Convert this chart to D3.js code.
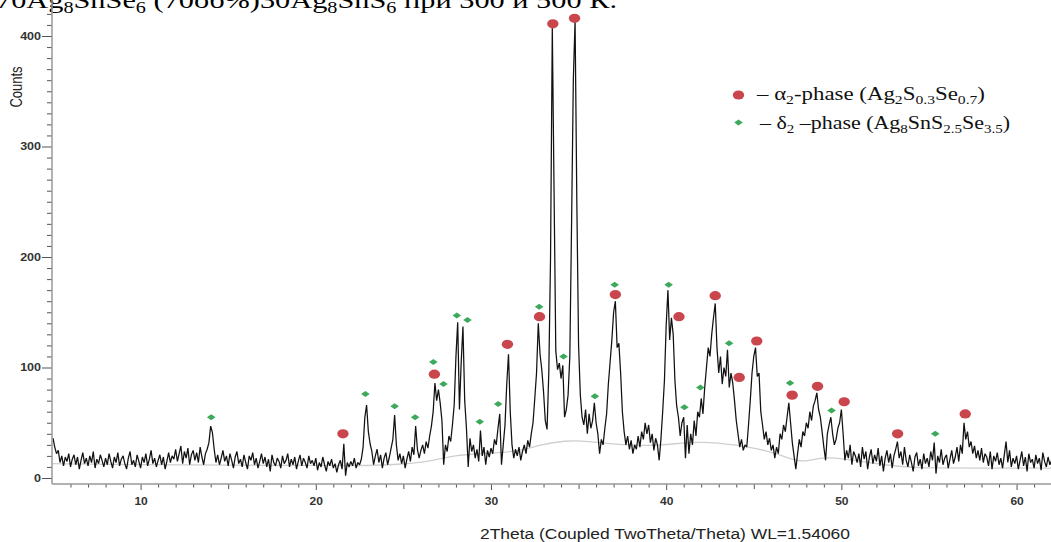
<!DOCTYPE html>
<html>
<head>
<meta charset="utf-8">
<script src="https://cdn.jsdelivr.net/npm/d3@7"></script>
<style>
  body { margin: 0; background: #fff; }
  svg { display: block; }
</style>
</head>
<body>
<div id="chart"></div>
<script>
const twoThetaStart = 5.0;
const twoThetaStep = 0.1;
const counts = [
  36, 28, 22, 25, 14, 20, 11, 19, 15, 22,   // 5
  10, 17, 21, 12, 19, 8, 16, 23, 13, 18,    // 6
  11, 20, 14, 24, 9, 17, 13, 21, 16, 10,    // 7
  18, 12, 22, 15, 9, 19, 14, 23, 11, 17,    // 8
  20, 13, 8, 18, 24, 12, 16, 10, 21, 15,    // 9
  9, 19, 14, 22, 11, 17, 25, 13, 18, 10,    // 10
  16, 21, 12, 19, 8, 15, 23, 14, 20, 17,    // 11
  26, 15, 22, 29, 13, 24, 18, 27, 12, 21,   // 12
  25, 16, 23, 14, 28, 19, 12, 22, 26, 32,   // 13
  47, 41, 26, 14, 21, 12, 18, 25, 15, 20,   // 14
  11, 22, 16, 9, 19, 24, 13, 17, 10, 21,    // 15
  14, 8, 20, 16, 23, 12, 18, 9, 15, 22,     // 16
  13, 19, 10, 17, 6, 21, 14, 11, 18, 15,    // 17
  9, 20, 13, 16, 22, 10, 17, 12, 19, 8,     // 18
  15, 21, 11, 18, 14, 9, 20, 13, 16, 11,    // 19
  18, 7, 14, 10, 19, 12, 6, 15, 11, 17,     // 20
  9, 13, 5, 12, 16, 8, 31, 2, 14, 10,       // 21
  15, 11, 18, 9, 14, 12, 17, 28, 55, 66,    // 22
  42, 31, 24, 12, 20, 26, 14, 21, 9, 18,    // 23
  23, 12, 19, 27, 35, 57, 30, 16, 22, 13,   // 24
  20, 9, 17, 24, 15, 28, 21, 47, 26, 18,    // 25
  25, 30, 22, 33, 27, 38, 47, 60, 86, 70,   // 26
  80, 68, 52, 12, 30, 24, 38, 33, 48, 66,   // 27
  110, 141, 62, 105, 137, 70, 45, 10, 36, 24, // 28
  30, 18, 26, 15, 43, 20, 28, 12, 25, 19,   // 29
  27, 22, 35, 30, 45, 58, 12, 30, 48, 85,   // 30
  112, 60, 30, 18, 26, 20, 28, 16, 24, 30,  // 31
  22, 34, 28, 40, 50, 72, 95, 140, 112, 98, // 32
  78, 52, 44, 95, 200, 408, 260, 115, 98, 104, // 33
  90, 102, 55, 62, 75, 110, 230, 360, 414, 250, // 34
  120, 75, 55, 48, 62, 40, 58, 45, 52, 68,  // 35
  50, 40, 22, 35, 30, 45, 58, 85, 105, 125, // 36
  150, 160, 118, 122, 95, 60, 42, 30, 38, 26, // 37
  34, 22, 30, 26, 38, 28, 42, 35, 50, 40,   // 38
  48, 32, 40, 25, 36, 30, 16, 35, 60, 88,   // 39
  138, 170, 125, 145, 130, 88, 65, 55, 38, 50, // 40
  55, 18, 48, 22, 40, 30, 52, 38, 60, 55,   // 41
  72, 58, 82, 100, 118, 110, 130, 145, 158, 118, // 42
  95, 110, 85, 100, 92, 116, 82, 95, 86, 70, // 43
  52, 40, 28, 35, 25, 30, 28, 48, 70, 95,   // 44
  110, 118, 92, 95, 60, 48, 35, 42, 30, 36, // 45
  25, 30, 18, 28, 22, 40, 35, 48, 42, 55,   // 46
  68, 50, 32, 20, 8, 22, 35, 28, 42, 38,    // 47
  50, 45, 60, 52, 65, 70, 77, 62, 55, 42,   // 48
  28, 16, 40, 48, 55, 40, 30, 35, 45, 50,   // 49
  62, 40, 16, 25, 18, 30, 12, 24, 20, 14,   // 50
  22, 10, 28, 17, 24, 8, 19, 26, 13, 21,    // 51
  15, 27, 11, 20, 6, 18, 25, 14, 22, 9,     // 52
  20, 26, 33, 18, 24, 12, 28, 16, 10, 21,   // 53
  14, 6, 19, 23, 11, 17, 8, 22, 13, 18,     // 54
  10, 24, 16, 32, 4, 20, 14, 26, 12, 18,    // 55
  21, 9, 17, 25, 13, 19, 28, 15, 30, 22,    // 56
  50, 35, 42, 28, 33, 22, 29, 18, 25, 16,   // 57
  27, 14, 22, 19, 11, 24, 8, 20, 15, 23,    // 58
  12, 18, 9, 21, 33, 14, 25, 10, 18, 13,    // 59
  20, 8, 16, 24, 11, 19, 6, 22, 14, 17,     // 60
  9, 21, 13, 18, 7, 23, 15, 10, 19, 12,     // 61
  16                                        // 62
];

// amorphous background (thin grey curve): [2theta, counts]
const backgroundCurve = [
  [5, 13], [10, 12], [15, 11.5], [20, 11.5], [23, 11], [25, 12.5], [26.5, 15],
  [28, 21], [30, 22.5], [31.5, 24], [32.8, 30], [34.2, 34], [35.5, 33.5],
  [37.3, 30], [39, 29], [40.5, 31], [42, 33], [44, 30], [45.7, 25], [47, 18],
  [47.8, 14], [48.9, 19], [50.1, 17.5], [51.8, 13.5], [53.5, 10], [55, 9],
  [58, 9], [62, 9]
];

// phase markers: [2theta, counts]
const alphaMarks = [
  [21.55, 40], [26.77, 94], [30.94, 121], [32.77, 146], [33.53, 411], [34.77, 416],
  [37.1, 166], [40.73, 146], [42.8, 165], [44.17, 91], [45.17, 124], [47.19, 75],
  [48.64, 83], [50.16, 69], [53.21, 40], [57.07, 58]
];
const deltaMarks = [
  [14.03, 55], [22.83, 76], [24.5, 65], [25.67, 55], [26.71, 105], [27.29, 85],
  [28.05, 147], [28.66, 143], [29.36, 51], [30.41, 67], [32.75, 155], [34.14, 110],
  [35.93, 74], [37.06, 175], [40.14, 175], [41.04, 64], [41.95, 82], [43.59, 122],
  [47.07, 86], [49.44, 61], [55.36, 40]
];

const xMajorTicks = [10, 20, 30, 40, 50, 60];
const yMajorTicks = [0, 100, 200, 300, 400];

// text pieces: [text, isSubscript]
const titleParts = [['70Ag', 0], ['8', 1], ['SnSe', 0], ['6', 1], [' (70об%)30Ag', 0], ['8', 1],
  ['SnS', 0], ['6', 1], [' при 300 и 500 К.', 0]];
const alphaLabel = [['– α', 0], ['2', 1], ['-phase (Ag', 0], ['2', 1], ['S', 0], ['0.3', 1],
  ['Se', 0], ['0.7', 1], [')', 0]];
const deltaLabel = [['– δ', 0], ['2', 1], [' –phase (Ag', 0], ['8', 1], ['SnS', 0], ['2.5', 1],
  ['Se', 0], ['3.5', 1], [')', 0]];

const W = 1051, H = 542;
const RED = '#c8464c', GREEN = '#3daa5b';

const svg = d3.select('#chart').append('svg')
  .attr('width', W).attr('height', H);

const x = d3.scaleLinear().domain([5, 62]).range([53, 1051.6]);
const y = d3.scaleLinear().domain([0, 400]).range([478, 36]);
const axisY = 484, axisX = 52;

// the source picture is widened, so text gets stretched horizontally
function widen(sel, k) {
  sel.each(function () {
    const w = this.getComputedTextLength();
    d3.select(this).attr('textLength', w * k).attr('lengthAdjust', 'spacingAndGlyphs');
  });
}

// writes pieces as tspans, subscripts dropped by `shift`
function richText(t, parts, subSize, shift) {
  let prev = 0;
  parts.forEach(([s, isSub]) => {
    const ts = t.append('tspan').attr('dy', (isSub - prev) * shift).text(s);
    if (isSub) ts.attr('font-size', subSize);
    prev = isSub;
  });
  return t;
}

const serif = '"Liberation Serif", "Times New Roman", serif';

// title line, cut at the top edge
richText(svg.append('text')
  .attr('x', -4).attr('y', 8)
  .attr('font-family', serif)
  .attr('font-size', 24).attr('fill', '#000'), titleParts, 16, 5)
  .attr('textLength', 621).attr('lengthAdjust', 'spacingAndGlyphs');

// background curve
svg.append('path')
  .datum(backgroundCurve)
  .attr('fill', 'none')
  .attr('stroke', '#cfcfcf')
  .attr('stroke-width', 1.3)
  .attr('d', d3.line().x(d => x(d[0])).y(d => y(d[1])).curve(d3.curveBasis));

// pattern
svg.append('path')
  .datum(counts)
  .attr('fill', 'none')
  .attr('stroke', '#111')
  .attr('stroke-width', 1.25)
  .attr('stroke-linejoin', 'bevel')
  .attr('d', d3.line()
    .x((d, i) => x(twoThetaStart + i * twoThetaStep))
    .y(d => y(d)));

// markers
svg.append('g').selectAll('ellipse')
  .data(alphaMarks).join('ellipse')
  .attr('cx', d => x(d[0])).attr('cy', d => y(d[1]))
  .attr('rx', 5.7).attr('ry', 4.6)
  .attr('fill', RED);

const diamond = (cx, cy) => `M${cx - 4.3},${cy}L${cx},${cy - 3}L${cx + 4.3},${cy}L${cx},${cy + 3}Z`;
svg.append('g').selectAll('path')
  .data(deltaMarks).join('path')
  .attr('d', d => diamond(x(d[0]), y(d[1])))
  .attr('fill', GREEN);

// axes
const tickFont = g => g.attr('font-family', '"Liberation Sans", Arial, sans-serif')
  .attr('font-size', 10).attr('font-weight', 'bold');

const xMinor = d3.range(6, 63).filter(v => v % 5 !== 0);
const xMid = d3.range(15, 63, 10);

svg.append('g').attr('transform', `translate(0,${axisY})`)
  .call(d3.axisBottom(x).tickValues(xMinor).tickSize(3.5).tickFormat(''))
  .call(g => g.select('.domain').remove())
  .call(g => g.selectAll('line').attr('stroke', '#555'));
svg.append('g').attr('transform', `translate(0,${axisY})`)
  .call(d3.axisBottom(x).tickValues(xMid).tickSize(5).tickFormat(''))
  .call(g => g.select('.domain').remove())
  .call(g => g.selectAll('line').attr('stroke', '#555'));
const xg = svg.append('g').attr('transform', `translate(0,${axisY})`)
  .call(d3.axisBottom(x).tickValues(xMajorTicks).tickSize(6).tickPadding(7.5).tickFormat(d3.format('d')))
  .call(tickFont)
  .call(g => g.select('.domain').remove())
  .call(g => g.selectAll('line').attr('stroke', '#555'))
  .call(g => g.selectAll('text').attr('fill', '#333'));
widen(xg.selectAll('text'), 1.2);

const yMinor = d3.range(10, 430, 10).filter(v => v % 100 !== 0);
svg.append('g').attr('transform', `translate(${axisX},0)`)
  .call(d3.axisLeft(y).tickValues(yMinor).tickSize(5).tickFormat(''))
  .call(g => g.select('.domain').remove())
  .call(g => g.selectAll('line').attr('stroke', '#555'));
const yg = svg.append('g').attr('transform', `translate(${axisX},0)`)
  .call(d3.axisLeft(y).tickValues(yMajorTicks).tickSize(10).tickPadding(1).tickFormat(d3.format('d')))
  .call(tickFont)
  .call(g => g.select('.domain').remove())
  .call(g => g.selectAll('line').attr('stroke', '#555'))
  .call(g => g.selectAll('text').attr('fill', '#333'));
widen(yg.selectAll('text'), 1.25);

// axis lines
svg.append('line')
  .attr('x1', axisX).attr('x2', axisX).attr('y1', axisY).attr('y2', -2)
  .attr('stroke', '#999').attr('stroke-width', 1.5);
svg.append('line')
  .attr('x1', axisX).attr('x2', W).attr('y1', axisY).attr('y2', axisY)
  .attr('stroke', '#999').attr('stroke-width', 1.5);

// axis titles
svg.append('text')
  .attr('transform', 'translate(22,87) scale(1.25,1) rotate(-90)')
  .attr('text-anchor', 'middle')
  .attr('font-family', '"Liberation Sans", Arial, sans-serif')
  .attr('font-size', 13).attr('fill', '#222')
  .text('Counts');

svg.append('text')
  .attr('x', 480).attr('y', 539)
  .attr('font-family', '"Liberation Sans", Arial, sans-serif')
  .attr('font-size', 14).attr('fill', '#222')
  .attr('textLength', 370).attr('lengthAdjust', 'spacingAndGlyphs')
  .text('2Theta (Coupled TwoTheta/Theta) WL=1.54060');

// legend
svg.append('ellipse').attr('cx', 738.5).attr('cy', 95)
  .attr('rx', 5.7).attr('ry', 4.6).attr('fill', RED);
svg.append('path').attr('d', diamond(738.5, 122.5)).attr('fill', GREEN);

richText(svg.append('text').attr('x', 757).attr('y', 100)
  .attr('font-family', serif).attr('font-size', 19).attr('fill', '#111'), alphaLabel, 13, 4)
  .attr('textLength', 228).attr('lengthAdjust', 'spacingAndGlyphs');

richText(svg.append('text').attr('x', 760).attr('y', 129)
  .attr('font-family', serif).attr('font-size', 19).attr('fill', '#111'), deltaLabel, 13, 4)
  .attr('textLength', 250).attr('lengthAdjust', 'spacingAndGlyphs');
</script>
</body>
</html>
